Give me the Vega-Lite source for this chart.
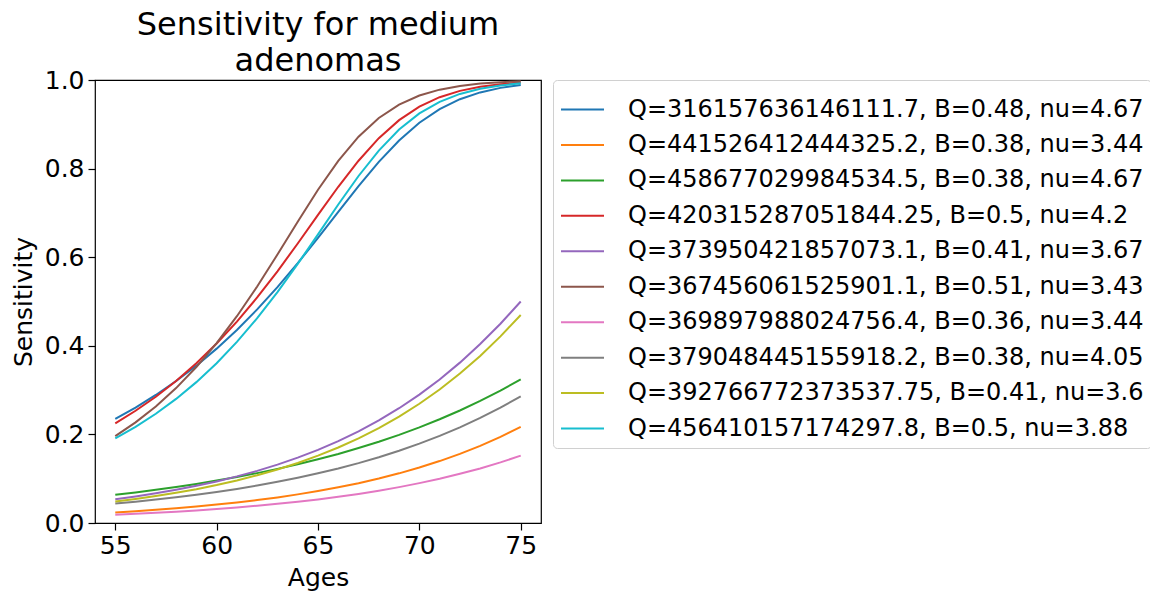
{
  "$schema": "https://vega.github.io/schema/vega-lite/v6.json",
  "autosize": {"type": "none"},
  "width": 446,
  "height": 443,
  "padding": {"left": 95, "top": 80, "right": 609, "bottom": 74},
  "background": "white",
  "config": {
    "font": "DejaVu Sans",
    "view": {"stroke": "black", "strokeWidth": 1.2},
    "axis": {
      "domain": false,
      "grid": false,
      "tickColor": "black",
      "tickSize": 7,
      "tickWidth": 1.2,
      "labelColor": "black",
      "labelFont": "DejaVu Sans",
      "labelFontSize": 25,
      "titleFont": "DejaVu Sans",
      "titleFontSize": 25,
      "titleFontWeight": "normal",
      "titleColor": "black"
    }
  },
  "title": {
    "text": ["Sensitivity for medium", "adenomas"],
    "fontSize": 32,
    "font": "DejaVu Sans",
    "fontWeight": "normal",
    "color": "black",
    "anchor": "middle",
    "lineHeight": 36,
    "offset": -10
  },
  "datasets": {
    "names": [
      {"id": "a", "label": "Q=316157636146111.7, B=0.48, nu=4.67"},
      {"id": "b", "label": "Q=441526412444325.2, B=0.38, nu=3.44"},
      {"id": "c", "label": "Q=458677029984534.5, B=0.38, nu=4.67"},
      {"id": "d", "label": "Q=420315287051844.25, B=0.5, nu=4.2"},
      {"id": "e", "label": "Q=373950421857073.1, B=0.41, nu=3.67"},
      {"id": "f", "label": "Q=367456061525901.1, B=0.51, nu=3.43"},
      {"id": "g", "label": "Q=369897988024756.4, B=0.36, nu=3.44"},
      {"id": "h", "label": "Q=379048445155918.2, B=0.38, nu=4.05"},
      {"id": "i", "label": "Q=392766772373537.75, B=0.41, nu=3.6"},
      {"id": "j", "label": "Q=456410157174297.8, B=0.5, nu=3.88"}
    ],
    "pts": [
      {"id":"a","age":55,"s":0.2350},{"id":"a","age":56,"s":0.2606},{"id":"a","age":57,"s":0.2890},{"id":"a","age":58,"s":0.3204},{"id":"a","age":59,"s":0.3552},{"id":"a","age":60,"s":0.3936},{"id":"a","age":61,"s":0.4358},{"id":"a","age":62,"s":0.4821},{"id":"a","age":63,"s":0.5324},{"id":"a","age":64,"s":0.5865},{"id":"a","age":65,"s":0.6436},{"id":"a","age":66,"s":0.7023},{"id":"a","age":67,"s":0.7604},{"id":"a","age":68,"s":0.8151},{"id":"a","age":69,"s":0.8634},{"id":"a","age":70,"s":0.9034},{"id":"a","age":71,"s":0.9342},{"id":"a","age":72,"s":0.9566},{"id":"a","age":73,"s":0.9720},{"id":"a","age":74,"s":0.9822},{"id":"a","age":75,"s":0.9888},
      {"id":"b","age":55,"s":0.0239},{"id":"b","age":56,"s":0.0267},{"id":"b","age":57,"s":0.0298},{"id":"b","age":58,"s":0.0333},{"id":"b","age":59,"s":0.0372},{"id":"b","age":60,"s":0.0415},{"id":"b","age":61,"s":0.0464},{"id":"b","age":62,"s":0.0518},{"id":"b","age":63,"s":0.0578},{"id":"b","age":64,"s":0.0646},{"id":"b","age":65,"s":0.0721},{"id":"b","age":66,"s":0.0805},{"id":"b","age":67,"s":0.0899},{"id":"b","age":68,"s":0.1004},{"id":"b","age":69,"s":0.1121},{"id":"b","age":70,"s":0.1252},{"id":"b","age":71,"s":0.1398},{"id":"b","age":72,"s":0.1561},{"id":"b","age":73,"s":0.1741},{"id":"b","age":74,"s":0.1944},{"id":"b","age":75,"s":0.2170},
      {"id":"c","age":55,"s":0.0637},{"id":"c","age":56,"s":0.0691},{"id":"c","age":57,"s":0.0750},{"id":"c","age":58,"s":0.0813},{"id":"c","age":59,"s":0.0882},{"id":"c","age":60,"s":0.0957},{"id":"c","age":61,"s":0.1038},{"id":"c","age":62,"s":0.1126},{"id":"c","age":63,"s":0.1222},{"id":"c","age":64,"s":0.1325},{"id":"c","age":65,"s":0.1438},{"id":"c","age":66,"s":0.1559},{"id":"c","age":67,"s":0.1692},{"id":"c","age":68,"s":0.1835},{"id":"c","age":69,"s":0.1990},{"id":"c","age":70,"s":0.2159},{"id":"c","age":71,"s":0.2342},{"id":"c","age":72,"s":0.2540},{"id":"c","age":73,"s":0.2755},{"id":"c","age":74,"s":0.2988},{"id":"c","age":75,"s":0.3240},
      {"id":"d","age":55,"s":0.2250},{"id":"d","age":56,"s":0.2533},{"id":"d","age":57,"s":0.2850},{"id":"d","age":58,"s":0.3207},{"id":"d","age":59,"s":0.3606},{"id":"d","age":60,"s":0.4052},{"id":"d","age":61,"s":0.4547},{"id":"d","age":62,"s":0.5091},{"id":"d","age":63,"s":0.5682},{"id":"d","age":64,"s":0.6309},{"id":"d","age":65,"s":0.6955},{"id":"d","age":66,"s":0.7590},{"id":"d","age":67,"s":0.8178},{"id":"d","age":68,"s":0.8687},{"id":"d","age":69,"s":0.9094},{"id":"d","age":70,"s":0.9398},{"id":"d","age":71,"s":0.9612},{"id":"d","age":72,"s":0.9755},{"id":"d","age":73,"s":0.9847},{"id":"d","age":74,"s":0.9906},{"id":"d","age":75,"s":0.9942},
      {"id":"e","age":55,"s":0.0534},{"id":"e","age":56,"s":0.0598},{"id":"e","age":57,"s":0.0669},{"id":"e","age":58,"s":0.0749},{"id":"e","age":59,"s":0.0839},{"id":"e","age":60,"s":0.0939},{"id":"e","age":61,"s":0.1052},{"id":"e","age":62,"s":0.1177},{"id":"e","age":63,"s":0.1318},{"id":"e","age":64,"s":0.1476},{"id":"e","age":65,"s":0.1652},{"id":"e","age":66,"s":0.1849},{"id":"e","age":67,"s":0.2070},{"id":"e","age":68,"s":0.2316},{"id":"e","age":69,"s":0.2591},{"id":"e","age":70,"s":0.2898},{"id":"e","age":71,"s":0.3240},{"id":"e","age":72,"s":0.3620},{"id":"e","age":73,"s":0.4039},{"id":"e","age":74,"s":0.4499},{"id":"e","age":75,"s":0.5001},
      {"id":"f","age":55,"s":0.1960},{"id":"f","age":56,"s":0.2271},{"id":"f","age":57,"s":0.2631},{"id":"f","age":58,"s":0.3045},{"id":"f","age":59,"s":0.3520},{"id":"f","age":60,"s":0.4061},{"id":"f","age":61,"s":0.4668},{"id":"f","age":62,"s":0.5340},{"id":"f","age":63,"s":0.6060},{"id":"f","age":64,"s":0.6801},{"id":"f","age":65,"s":0.7522},{"id":"f","age":66,"s":0.8175},{"id":"f","age":67,"s":0.8721},{"id":"f","age":68,"s":0.9142},{"id":"f","age":69,"s":0.9444},{"id":"f","age":70,"s":0.9649},{"id":"f","age":71,"s":0.9782},{"id":"f","age":72,"s":0.9866},{"id":"f","age":73,"s":0.9919},{"id":"f","age":74,"s":0.9951},{"id":"f","age":75,"s":0.9970},
      {"id":"g","age":55,"s":0.0187},{"id":"g","age":56,"s":0.0207},{"id":"g","age":57,"s":0.0230},{"id":"g","age":58,"s":0.0256},{"id":"g","age":59,"s":0.0284},{"id":"g","age":60,"s":0.0315},{"id":"g","age":61,"s":0.0350},{"id":"g","age":62,"s":0.0389},{"id":"g","age":63,"s":0.0432},{"id":"g","age":64,"s":0.0480},{"id":"g","age":65,"s":0.0533},{"id":"g","age":66,"s":0.0592},{"id":"g","age":67,"s":0.0657},{"id":"g","age":68,"s":0.0730},{"id":"g","age":69,"s":0.0810},{"id":"g","age":70,"s":0.0900},{"id":"g","age":71,"s":0.0999},{"id":"g","age":72,"s":0.1110},{"id":"g","age":73,"s":0.1230},{"id":"g","age":74,"s":0.1369},{"id":"g","age":75,"s":0.1520},
      {"id":"h","age":55,"s":0.0438},{"id":"h","age":56,"s":0.0482},{"id":"h","age":57,"s":0.0529},{"id":"h","age":58,"s":0.0581},{"id":"h","age":59,"s":0.0638},{"id":"h","age":60,"s":0.0701},{"id":"h","age":61,"s":0.0770},{"id":"h","age":62,"s":0.0846},{"id":"h","age":63,"s":0.0929},{"id":"h","age":64,"s":0.1020},{"id":"h","age":65,"s":0.1121},{"id":"h","age":66,"s":0.1231},{"id":"h","age":67,"s":0.1352},{"id":"h","age":68,"s":0.1485},{"id":"h","age":69,"s":0.1631},{"id":"h","age":70,"s":0.1791},{"id":"h","age":71,"s":0.1967},{"id":"h","age":72,"s":0.2160},{"id":"h","age":73,"s":0.2372},{"id":"h","age":74,"s":0.2605},{"id":"h","age":75,"s":0.2860},
      {"id":"i","age":55,"s":0.0483},{"id":"i","age":56,"s":0.0542},{"id":"i","age":57,"s":0.0608},{"id":"i","age":58,"s":0.0682},{"id":"i","age":59,"s":0.0764},{"id":"i","age":60,"s":0.0857},{"id":"i","age":61,"s":0.0961},{"id":"i","age":62,"s":0.1078},{"id":"i","age":63,"s":0.1209},{"id":"i","age":64,"s":0.1356},{"id":"i","age":65,"s":0.1520},{"id":"i","age":66,"s":0.1704},{"id":"i","age":67,"s":0.1911},{"id":"i","age":68,"s":0.2142},{"id":"i","age":69,"s":0.2401},{"id":"i","age":70,"s":0.2691},{"id":"i","age":71,"s":0.3014},{"id":"i","age":72,"s":0.3373},{"id":"i","age":73,"s":0.3772},{"id":"i","age":74,"s":0.4213},{"id":"i","age":75,"s":0.4695},
      {"id":"j","age":55,"s":0.1910},{"id":"j","age":56,"s":0.2171},{"id":"j","age":57,"s":0.2466},{"id":"j","age":58,"s":0.2801},{"id":"j","age":59,"s":0.3180},{"id":"j","age":60,"s":0.3608},{"id":"j","age":61,"s":0.4088},{"id":"j","age":62,"s":0.4623},{"id":"j","age":63,"s":0.5212},{"id":"j","age":64,"s":0.5848},{"id":"j","age":65,"s":0.6516},{"id":"j","age":66,"s":0.7190},{"id":"j","age":67,"s":0.7833},{"id":"j","age":68,"s":0.8406},{"id":"j","age":69,"s":0.8881},{"id":"j","age":70,"s":0.9246},{"id":"j","age":71,"s":0.9508},{"id":"j","age":72,"s":0.9686},{"id":"j","age":73,"s":0.9803},{"id":"j","age":74,"s":0.9878},{"id":"j","age":75,"s":0.9925}
    ]
  },
  "data": {"name": "pts"},
  "transform": [
    {"lookup": "id", "from": {"data": {"name": "names"}, "key": "id", "fields": ["label"]}}
  ],
  "mark": {"type": "line", "strokeWidth": 2, "clip": true},
  "encoding": {
    "x": {
      "field": "age",
      "type": "quantitative",
      "scale": {"domain": [54, 76], "nice": false, "zero": false},
      "axis": {"title": "Ages", "values": [55, 60, 65, 70, 75], "labelPadding": 3, "titlePadding": 7}
    },
    "y": {
      "field": "s",
      "type": "quantitative",
      "scale": {"domain": [0, 1], "nice": false},
      "axis": {"title": "Sensitivity", "values": [0, 0.2, 0.4, 0.6, 0.8, 1.0], "format": ".1f", "labelPadding": 4, "titlePadding": 8}
    },
    "color": {
      "field": "label",
      "type": "nominal",
      "scale": {
        "domain": [
          "Q=316157636146111.7, B=0.48, nu=4.67",
          "Q=441526412444325.2, B=0.38, nu=3.44",
          "Q=458677029984534.5, B=0.38, nu=4.67",
          "Q=420315287051844.25, B=0.5, nu=4.2",
          "Q=373950421857073.1, B=0.41, nu=3.67",
          "Q=367456061525901.1, B=0.51, nu=3.43",
          "Q=369897988024756.4, B=0.36, nu=3.44",
          "Q=379048445155918.2, B=0.38, nu=4.05",
          "Q=392766772373537.75, B=0.41, nu=3.6",
          "Q=456410157174297.8, B=0.5, nu=3.88"
        ],
        "range": ["#1f77b4", "#ff7f0e", "#2ca02c", "#d62728", "#9467bd", "#8c564b", "#e377c2", "#7f7f7f", "#bcbd22", "#17becf"]
      },
      "legend": {
        "title": null,
        "orient": "right",
        "offset": 12,
        "padding": 7,
        "strokeColor": "#d0d0d0",
        "fillColor": "white",
        "cornerRadius": 4,
        "symbolType": "stroke",
        "symbolSize": 1849,
        "symbolStrokeWidth": 2,
        "labelFontSize": 24,
        "labelFont": "DejaVu Sans",
        "labelColor": "black",
        "labelOffset": 23,
        "labelLimit": 700,
        "rowPadding": 0.45
      }
    }
  }
}
